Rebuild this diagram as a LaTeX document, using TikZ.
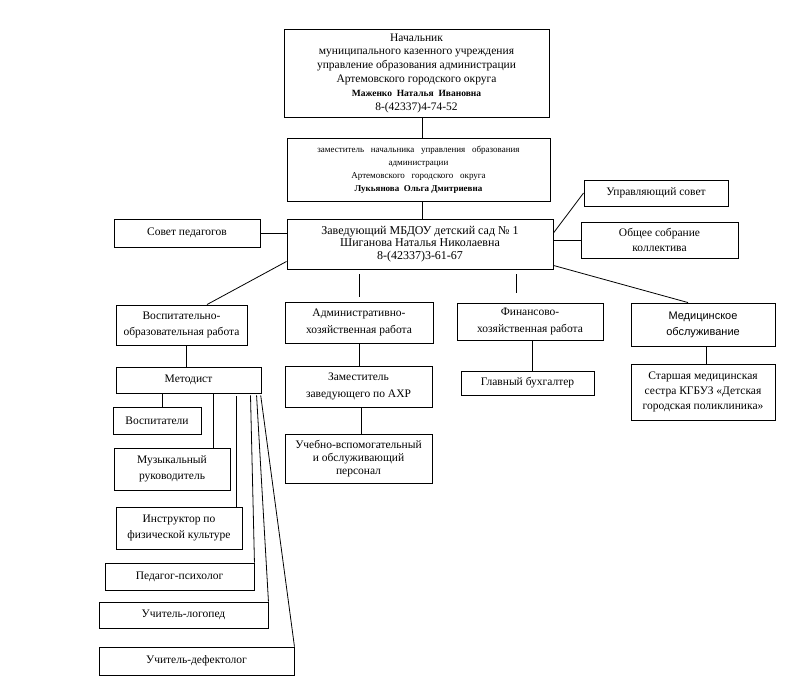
\documentclass[tikz,border=0pt]{standalone}
\usepackage{fontspec}
\setmainfont{Liberation Serif}
\newfontfamily\sansf{Liberation Sans}
\begin{document}
\begin{tikzpicture}[x=1pt,y=-1pt,
 box/.style={draw, line width=0.9pt, align=center, inner sep=1pt, font=\fontsize{11.5}{13}\selectfont},
 wide/.style={font=\fontsize{11.5}{16.5}\selectfont},
 mid/.style={font=\fontsize{11.5}{15}\selectfont},
 sz/.style 2 args={minimum width=#1pt, minimum height=#2pt},
 conn/.style={line width=0.8pt}]
\useasboundingbox (0,0) rectangle (800,693);
\fill[white] (0,0) rectangle (800,693);

\node[box, sz={265}{88}, font=\fontsize{11.5}{13.8}\selectfont] (chief) at (416.5,73) {Начальник\\муниципального казенного учреждения\\управление образования администрации\\Артемовского городского округа\\{\fontsize{9.5}{11.5}\selectfont\bfseries Маженко\ \ Наталья\ \ Ивановна}\\8-(42337)4-74-52};
\node[box, sz={263}{63}, font=\fontsize{9}{13}\selectfont] (deputy) at (418.5,169.5) {заместитель\ \ \ начальника\ \ \ управления\ \ \ образования\\администрации\\Артемовского\ \ \ городского\ \ \ округа\\\bfseries Лукьянова\ \ Ольга Дмитриевна};
\node[box, sz={266}{50}, font=\fontsize{12}{12.8}\selectfont] (head) at (420,244) {Заведующий МБДОУ детский сад № 1\\Шиганова Наталья Николаевна\\8-(42337)3-61-67};
\node[box, sz={146}{28}] (sovped) at (187,233) {Совет педагогов};
\node[box, sz={144}{26}] (upr) at (656,193) {Управляющий совет};
\node[box, mid, sz={157}{36}] (obsh) at (659.5,240) {Общее собрание\\коллектива};

\node[box, wide, sz={131}{40}] (vosp) at (181.5,325) {Воспитательно-\\образовательная работа};
\node[box, wide, sz={148}{41}] (adm) at (359,322.5) {Административно-\\хозяйственная работа};
\node[box, wide, sz={146}{37}] (fin) at (530,321.5) {Финансово-\\хозяйственная работа};
\node[box, sz={144}{43}, font=\sansf\fontsize{11}{16}\selectfont] (med) at (703,324.5) {Медицинское\\обслуживание};

\node[box, sz={145}{26}] (metod) at (188.5,380) {Методист};
\node[box, wide, sz={147}{41}] (zam) at (358.5,386.5) {Заместитель\\заведующего по АХР};
\node[box, sz={147}{49}] (ucheb) at (358.5,458.5) {Учебно-вспомогательный\\и обслуживающий\\персонал};
\node[box, sz={133}{24}] (glav) at (527.5,383) {Главный бухгалтер};
\node[box, mid, sz={144}{56}] (sestra) at (703,392) {Старшая медицинская\\сестра КГБУЗ «Детская\\городская поликлиника»};

\node[box, sz={88}{27}] (vospit) at (157,420.5) {Воспитатели};
\node[box, wide, sz={116}{42}] (muz) at (172,469) {Музыкальный\\руководитель};
\node[box, wide, sz={126}{42}] (instr) at (179,528) {Инструктор по\\физической культуре};
\node[box, sz={149}{27}] (psych) at (179.5,576.5) {Педагог-психолог};
\node[box, sz={169}{26}] (logo) at (183.5,615) {Учитель-логопед};
\node[box, sz={195}{28}] (def) at (196.5,661) {Учитель-дефектолог};

% connectors
\draw[conn] ([xshift=5.5pt]chief.south) -- ([xshift=5.5pt]chief.south |- deputy.north);
\draw[conn] ([xshift=3.5pt]deputy.south) -- ([xshift=3.5pt]deputy.south |- head.north);
\draw[conn] (sovped.east) -- (sovped.east -| head.west);
\draw[conn] (upr.west) -- ([yshift=11pt]head.east);
\draw[conn] (obsh.west) -- (obsh.west -| head.east);
\draw[conn] ([yshift=8pt]head.south west) -- ([xshift=25.5pt]vosp.north);
\draw[conn, shorten <=5pt, shorten >=5pt] (adm.north) -- (adm.north |- head.south);
\draw[conn, shorten <=10pt, shorten >=5pt] ([xshift=-14pt]fin.north) -- ([xshift=-14pt]fin.north |- head.south);
\draw[conn] ([yshift=4pt]head.south east) -- ([xshift=-15pt]med.north);

\draw[conn] ([xshift=4.5pt]vosp.south) -- ([xshift=4.5pt]vosp.south |- metod.north);
\draw[conn] (adm.south) -- (adm.south |- zam.north);
\draw[conn] ([xshift=2.5pt]zam.south) -- ([xshift=2.5pt]zam.south |- ucheb.north);
\draw[conn] ([xshift=2pt]fin.south) -- ([xshift=2pt]fin.south |- glav.north);
\draw[conn] ([xshift=3pt]med.south) -- ([xshift=3pt]med.south |- sestra.north);

\draw[conn] ([xshift=5pt]vospit.north) -- ([xshift=5pt]vospit.north |- metod.south);
\draw[conn] ([xshift=41pt]muz.north) -- ([xshift=41pt]muz.north |- metod.south);
\draw[conn, shorten >=3pt] ([xshift=57pt]instr.north) -- ([xshift=57pt]instr.north |- metod.south);
\draw[conn, shorten <=2pt] ([xshift=-11pt]metod.south east) -- (psych.north east);
\draw[conn, shorten <=2pt] ([xshift=-5pt]metod.south east) -- (logo.north east);
\draw[conn, shorten <=2pt] ([xshift=-1pt]metod.south east) -- (def.north east);
\end{tikzpicture}
\end{document}
